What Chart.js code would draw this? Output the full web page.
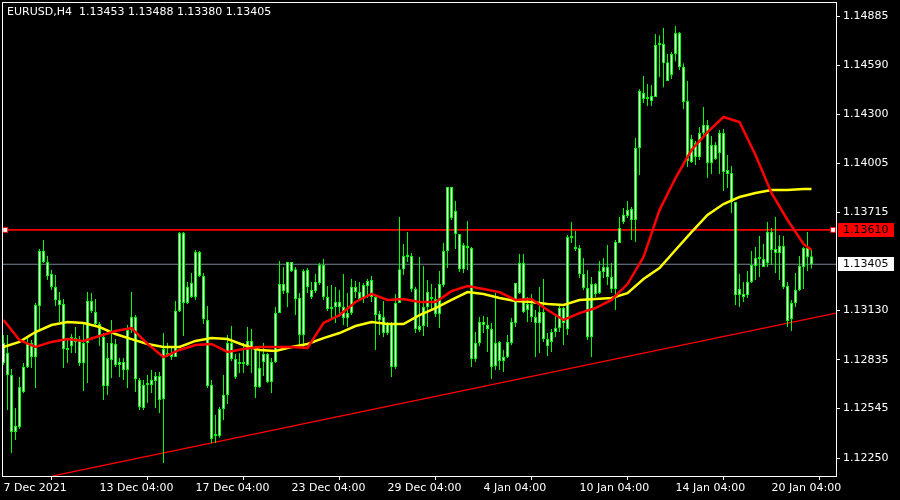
<!DOCTYPE html>
<html>
<head>
<meta charset="utf-8">
<script src="https://cdn.jsdelivr.net/npm/chart.js@4.4.0/dist/chart.umd.min.js"></script>
<style>
  html, body { margin: 0; padding: 0; background: #000; }
  #wrap { width: 900px; height: 500px; position: relative; }
</style>
</head>
<body>
<div id="wrap"><canvas id="mainChart"></canvas></div>
<script>
// EURUSD H4 - bougies
const symbol = 'EURUSD,H4';

// [open, high, low, close] par barre H4
const ohlc = [
  [1.12936,1.12983,1.12805,1.12816],[1.12876,1.12983,1.12536,1.12745],[1.12745,1.12781,1.12280,1.12405],[1.12405,1.12548,1.12358,1.12441],
  [1.12435,1.12733,1.12423,1.12673],[1.12644,1.12816,1.12638,1.12793],[1.12793,1.12965,1.12787,1.12936],[1.12936,1.12953,1.12787,1.12852],
  [1.12852,1.13174,1.12667,1.13162],[1.13156,1.13496,1.13013,1.13484],[1.13484,1.13550,1.13412,1.13418],[1.13418,1.13454,1.13311,1.13335],
  [1.13347,1.13371,1.13251,1.13269],[1.13269,1.13341,1.13156,1.13192],[1.13192,1.13239,1.13061,1.13162],[1.13168,1.13198,1.12787,1.12900],
  [1.12900,1.12965,1.12816,1.12894],[1.12918,1.12989,1.12876,1.12971],[1.12965,1.13031,1.12876,1.12942],[1.12948,1.12977,1.12799,1.12816],
  [1.12816,1.13061,1.12650,1.12936],[1.12936,1.13239,1.12697,1.13186],[1.13186,1.13233,1.13114,1.13126],[1.13120,1.13198,1.13031,1.13049],
  [1.13049,1.13061,1.12918,1.12971],[1.12971,1.12995,1.12596,1.12679],[1.12679,1.12936,1.12626,1.12846],[1.12834,1.13073,1.12727,1.12936],
  [1.12930,1.12959,1.12793,1.12805],[1.12805,1.12846,1.12733,1.12822],[1.12822,1.12846,1.12715,1.12775],[1.12775,1.13043,1.12667,1.13013],
  [1.13013,1.13239,1.12995,1.13090],[1.13090,1.13102,1.12644,1.12721],[1.12715,1.12727,1.12536,1.12554],[1.12548,1.12715,1.12536,1.12685],
  [1.12685,1.12745,1.12578,1.12697],[1.12685,1.12775,1.12638,1.12715],[1.12709,1.12763,1.12548,1.12739],[1.12739,1.12763,1.12518,1.12596],
  [1.12602,1.12995,1.12220,1.12900],[1.12876,1.12936,1.12852,1.12864],[1.12870,1.12906,1.12834,1.12852],[1.12852,1.13186,1.12852,1.13126],
  [1.13126,1.13597,1.13120,1.13591],[1.13591,1.13597,1.12977,1.13174],[1.13174,1.13299,1.13168,1.13269],[1.13293,1.13353,1.13204,1.13210],
  [1.13210,1.13490,1.13192,1.13478],[1.13478,1.13484,1.13329,1.13335],[1.13335,1.13353,1.13049,1.13079],[1.13073,1.13156,1.12667,1.12679],
  [1.12685,1.12715,1.12340,1.12364],[1.12381,1.12506,1.12340,1.12387],[1.12381,1.12554,1.12370,1.12542],[1.12542,1.12745,1.12477,1.12626],
  [1.12626,1.12983,1.12572,1.12936],[1.12936,1.13037,1.12828,1.12840],[1.12840,1.12870,1.12721,1.12733],[1.12810,1.12876,1.12757,1.12816],
  [1.12816,1.12936,1.12757,1.12810],[1.12805,1.13031,1.12799,1.12948],[1.12948,1.13019,1.12757,1.12906],[1.12906,1.12918,1.12608,1.12673],
  [1.12673,1.12894,1.12667,1.12787],[1.12822,1.12936,1.12739,1.12870],[1.12870,1.12876,1.12697,1.12703],[1.12703,1.12846,1.12638,1.12822],
  [1.12822,1.13150,1.12816,1.13114],[1.13114,1.13424,1.13114,1.13287],[1.13287,1.13388,1.13228,1.13245],[1.13233,1.13418,1.13150,1.13418],
  [1.13418,1.13418,1.13359,1.13365],[1.13376,1.13388,1.13102,1.13198],[1.13204,1.13233,1.12924,1.12983],[1.12983,1.13376,1.12912,1.13365],
  [1.13371,1.13382,1.13233,1.13269],[1.13251,1.13299,1.13198,1.13210],[1.13245,1.13347,1.13233,1.13299],[1.13293,1.13412,1.13281,1.13400],
  [1.13400,1.13436,1.13192,1.13210],[1.13210,1.13275,1.13126,1.13138],[1.13144,1.13281,1.13085,1.13138],[1.13150,1.13269,1.13055,1.13180],
  [1.13180,1.13251,1.13090,1.13150],[1.13150,1.13347,1.13043,1.13085],[1.13085,1.13233,1.13031,1.13114],[1.13114,1.13317,1.13102,1.13269],
  [1.13269,1.13305,1.13204,1.13239],[1.13239,1.13299,1.13192,1.13198],[1.13198,1.13293,1.13174,1.13281],[1.13275,1.13317,1.13204,1.13305],
  [1.13311,1.13335,1.13180,1.13210],[1.13210,1.13228,1.12894,1.13102],[1.13108,1.13126,1.12983,1.13073],[1.13090,1.13186,1.12971,1.12995],
  [1.12995,1.13061,1.12983,1.13055],[1.13049,1.13061,1.12733,1.12793],[1.12793,1.13228,1.12781,1.13174],[1.13174,1.13687,1.13174,1.13376],
  [1.13376,1.13526,1.13341,1.13454],[1.13448,1.13597,1.13418,1.13460],[1.13454,1.13472,1.13239,1.13257],[1.13257,1.13269,1.12995,1.13019],
  [1.13013,1.13448,1.13001,1.13037],[1.13037,1.13394,1.12977,1.13150],[1.13150,1.13311,1.13031,1.13239],[1.13204,1.13287,1.13132,1.13198],
  [1.13198,1.13263,1.13090,1.13108],[1.13108,1.13365,1.13025,1.13287],[1.13281,1.13532,1.13269,1.13484],[1.13484,1.13866,1.13382,1.13866],
  [1.13866,1.13866,1.13669,1.13681],[1.13722,1.13782,1.13496,1.13585],[1.13585,1.13585,1.13359,1.13376],[1.13376,1.13532,1.13353,1.13520],
  [1.13514,1.13663,1.13371,1.13502],[1.13502,1.13508,1.12793,1.12840],[1.12840,1.13001,1.12822,1.12936],[1.12936,1.13090,1.12918,1.13061],
  [1.13061,1.13096,1.12995,1.13043],[1.13043,1.13090,1.12882,1.13019],[1.13019,1.13055,1.12721,1.12793],[1.12799,1.13233,1.12775,1.12936],
  [1.12942,1.12948,1.12775,1.12828],[1.12828,1.12894,1.12763,1.12852],[1.12852,1.12983,1.12846,1.12942],[1.12936,1.13085,1.12924,1.13061],
  [1.13055,1.13293,1.13031,1.13293],[1.13233,1.13466,1.13228,1.13412],[1.13412,1.13466,1.13114,1.13120],[1.13132,1.13210,1.13061,1.13168],
  [1.13168,1.13228,1.13061,1.13090],[1.13090,1.13132,1.12852,1.13055],[1.13055,1.13269,1.12876,1.13120],[1.13120,1.13317,1.12942,1.12959],
  [1.12959,1.12995,1.12858,1.12918],[1.12942,1.13019,1.12882,1.13001],[1.13001,1.13102,1.12971,1.13025],[1.13025,1.13162,1.13001,1.13144],
  [1.13144,1.13150,1.12924,1.13055],[1.13019,1.13579,1.12983,1.13567],[1.13561,1.13657,1.13532,1.13573],[1.13508,1.13603,1.13484,1.13496],
  [1.13502,1.13520,1.13323,1.13347],[1.13347,1.13442,1.13251,1.13263],[1.13263,1.13371,1.12953,1.12971],[1.12971,1.13329,1.12852,1.13287],
  [1.13287,1.13293,1.13210,1.13228],[1.13233,1.13424,1.13228,1.13365],[1.13359,1.13442,1.13323,1.13388],[1.13388,1.13520,1.13281,1.13329],
  [1.13329,1.13412,1.13233,1.13257],[1.13257,1.13550,1.13132,1.13538],[1.13532,1.13687,1.13532,1.13621],[1.13657,1.13740,1.13645,1.13699],
  [1.13693,1.13782,1.13681,1.13728],[1.13734,1.13746,1.13550,1.13669],[1.13669,1.14157,1.13538,1.14098],[1.14098,1.14449,1.13937,1.14438],
  [1.14426,1.14527,1.14366,1.14390],[1.14390,1.14479,1.14348,1.14402],[1.14408,1.14473,1.14348,1.14378],[1.14402,1.14777,1.14402,1.14712],
  [1.14712,1.14771,1.14521,1.14718],[1.14718,1.14813,1.14461,1.14604],[1.14610,1.14658,1.14497,1.14497],[1.14533,1.14670,1.14509,1.14658],
  [1.14658,1.14825,1.14616,1.14783],[1.14783,1.14789,1.14563,1.14581],[1.14581,1.14604,1.14330,1.14372],[1.14378,1.14497,1.13985,1.14020],
  [1.14014,1.14176,1.14008,1.14152],[1.14128,1.14140,1.13997,1.14044],[1.14044,1.14223,1.14026,1.14187],[1.14187,1.14342,1.14157,1.14235],
  [1.14235,1.14265,1.13919,1.14008],[1.14008,1.14169,1.13943,1.14116],[1.14116,1.14134,1.14026,1.14032],[1.14068,1.14205,1.13943,1.14187],
  [1.14187,1.14211,1.13842,1.13955],[1.13967,1.14056,1.13860,1.13943],[1.13949,1.13991,1.13710,1.13776],[1.13776,1.13776,1.13162,1.13222],
  [1.13222,1.13347,1.13150,1.13257],[1.13228,1.13299,1.13180,1.13210],[1.13222,1.13365,1.13204,1.13299],[1.13299,1.13484,1.13293,1.13400],
  [1.13394,1.13508,1.13311,1.13442],[1.13442,1.13573,1.13329,1.13436],[1.13436,1.13526,1.13388,1.13388],[1.13412,1.13657,1.13388,1.13597],
  [1.13597,1.13621,1.13400,1.13490],[1.13496,1.13687,1.13353,1.13472],[1.13472,1.13579,1.13311,1.13514],[1.13514,1.13573,1.13257,1.13269],
  [1.13275,1.13299,1.13031,1.13067],[1.13079,1.13192,1.13007,1.13174],[1.13174,1.13353,1.13150,1.13251],[1.13251,1.13454,1.13245,1.13394],
  [1.13388,1.13508,1.13257,1.13502],[1.13502,1.13597,1.13365,1.13448],[1.13453,1.13488,1.13380,1.13405]
];

// moyennes mobiles relevées toutes les 4 barres
const maBars = [0,4,8,12,16,20,24,28,32,36,40,44,48,52,56,60,64,68,72,76,80,84,88,92,96,100,
  104,108,112,116,120,124,128,132,136,140,144,148,152,156,160,164,168,172,176,180,184,188,192,196,200,202];
const redMA = [1.13073,1.12953,1.12912,1.12942,1.12959,1.12948,1.12977,1.13007,1.13025,1.12930,
  1.12852,1.12894,1.12924,1.12930,1.12882,1.12900,1.12912,1.12912,1.12912,1.12906,
  1.13055,1.13102,1.13180,1.13228,1.13192,1.13198,1.13180,1.13180,1.13245,1.13275,
  1.13257,1.13239,1.13192,1.13198,1.13132,1.13073,1.13114,1.13144,1.13192,1.13287,
  1.13448,1.13728,1.13919,1.14086,1.14193,1.14283,1.14253,1.14056,1.13830,1.13669,
  1.13526,1.13490];
const yellowMA = [1.12912,1.12942,1.13001,1.13043,1.13061,1.13055,1.13031,1.12989,1.12959,1.12930,
  1.12912,1.12912,1.12948,1.12965,1.12959,1.12924,1.12894,1.12888,1.12912,1.12930,
  1.12965,1.12995,1.13037,1.13061,1.13049,1.13049,1.13102,1.13144,1.13192,1.13239,
  1.13228,1.13204,1.13186,1.13180,1.13168,1.13162,1.13192,1.13198,1.13204,1.13233,
  1.13317,1.13382,1.13490,1.13597,1.13699,1.13764,1.13806,1.13830,1.13848,1.13848,
  1.13854,1.13854];

// objets tracés
const trendBars = [12.375, 208.125];
const trendPrices = [1.12143, 1.13114];
const levelPrice = 1.13610;
const levelBars = [0.45, 207.4];
const bidPrice = 1.13405;

// axes
const xMin = -0.375, xMax = 208.125;
const yMin = 1.121427, yMax = 1.149685;
const xTickBars = [0, 24, 48, 72, 96, 120, 144, 168, 192];
const xTickLabels = ['7 Dec 2021', '13 Dec 04:00', '17 Dec 04:00', '23 Dec 04:00', '29 Dec 04:00',
  '4 Jan 04:00', '10 Jan 04:00', '14 Jan 04:00', '20 Jan 04:00'];
const yTicks = [1.14885, 1.14590, 1.14300, 1.14005, 1.13715, 1.13130, 1.12835, 1.12545, 1.12250];

const FONT = { family: 'DejaVu Sans', size: 11 };
const GREEN = '#00ff00';

function noPadding(s) {
    s.paddingTop = 0;
    s.paddingBottom = 0;
    s.paddingLeft = 0;
    s.paddingRight = 0;
}

const frameAndLabels = {
    id: 'frameAndLabels',
    afterDatasetsDraw(chart) {
        const { ctx, chartArea: a } = chart;
        ctx.save();
        ctx.strokeStyle = '#fff';
        ctx.lineWidth = 1;
        ctx.strokeRect(a.left + 0.5, a.top + 0.5, a.right - a.left, a.bottom - a.top);
        ctx.restore();
    },
    afterDraw(chart) {
        const { ctx, scales } = chart;
        const last = ohlc[ohlc.length - 1];
        ctx.save();
        ctx.font = '11px "DejaVu Sans"';
        ctx.textBaseline = 'middle';
        ctx.textAlign = 'left';
        ctx.fillStyle = '#fff';
        ctx.fillText(symbol + '  ' + last.map(v => v.toFixed(5)).join(' '), 7, 12);

        const yl = Math.round(scales.y.getPixelForValue(levelPrice));
        ctx.fillStyle = '#ff0000';
        ctx.fillRect(838, yl - 7, 56, 14);
        ctx.fillStyle = '#000';
        ctx.fillText(levelPrice.toFixed(5), 843, yl);

        const yb = Math.round(scales.y.getPixelForValue(bidPrice));
        ctx.fillStyle = '#fff';
        ctx.fillRect(838, yb - 7, 56, 14);
        ctx.fillStyle = '#000';
        ctx.fillText(bidPrice.toFixed(5), 843, yb);
        ctx.restore();
    }
};

function initChart() {
    const ctx = document.getElementById('mainChart').getContext('2d');

    const wicks = ohlc.map((c, i) => ({ x: i, y: [c[2], c[1]] }));
    const bodies = ohlc.map((c, i) => ({ x: i, y: [c[0], c[3]] }));

    new Chart(ctx, {
        type: 'bar',
        data: {
            datasets: [
                {
                    type: 'line', order: 10,
                    data: [{ x: xMin, y: bidPrice }, { x: xMax, y: bidPrice }],
                    borderColor: '#778899', borderWidth: 1.2, pointRadius: 0
                },
                {
                    type: 'line', order: 9,
                    data: levelBars.map(b => ({ x: b, y: levelPrice })),
                    borderColor: '#ff0000', borderWidth: 1.6,
                    pointStyle: 'rect', pointRadius: 3.5,
                    pointBackgroundColor: '#fff', pointBorderColor: '#ff0000', pointBorderWidth: 1
                },
                {
                    type: 'line', order: 8,
                    data: trendBars.map((b, i) => ({ x: b, y: trendPrices[i] })),
                    borderColor: '#ff0000', borderWidth: 1.2, pointRadius: 0
                },
                {
                    order: 5, data: wicks,
                    backgroundColor: GREEN, borderWidth: 0,
                    barThickness: 1, grouped: false, inflateAmount: 0
                },
                {
                    order: 4, data: bodies,
                    backgroundColor: '#fff', borderColor: GREEN, borderWidth: 1,
                    borderSkipped: false, barThickness: 3, grouped: false,
                    inflateAmount: 0, minBarLength: 2
                },
                {
                    type: 'line', order: 2,
                    data: maBars.map((b, i) => ({ x: b, y: yellowMA[i] })),
                    borderColor: '#ffff00', borderWidth: 2.5, pointRadius: 0, tension: 0
                },
                {
                    type: 'line', order: 1,
                    data: maBars.map((b, i) => ({ x: b, y: redMA[i] })),
                    borderColor: '#ff0000', borderWidth: 2.5, pointRadius: 0, tension: 0
                }
            ]
        },
        options: {
            responsive: true,
            maintainAspectRatio: false,
            animation: false,
            layout: { autoPadding: false, padding: { left: 2, top: 2, right: 0, bottom: 0 } },
            plugins: {
                legend: { display: false },
                tooltip: { enabled: false }
            },
            scales: {
                x: {
                    type: 'linear',
                    min: xMin,
                    max: xMax,
                    offset: false,
                    afterFit: s => { s.height = 24; noPadding(s); },
                    afterBuildTicks: s => { s.ticks = xTickBars.map(v => ({ value: v })); },
                    grid: { display: true, drawOnChartArea: false, drawTicks: true, tickLength: 4, color: '#fff' },
                    border: { display: false },
                    ticks: {
                        color: '#fff', font: FONT, align: 'start', padding: 2,
                        maxRotation: 0, autoSkip: false,
                        callback: (v, i) => xTickLabels[i]
                    }
                },
                y: {
                    position: 'right',
                    min: yMin,
                    max: yMax,
                    afterFit: s => { s.width = 64; noPadding(s); },
                    afterBuildTicks: s => { s.ticks = yTicks.map(v => ({ value: v })); },
                    grid: { display: true, drawOnChartArea: false, drawTicks: true, tickLength: 4, color: '#fff' },
                    border: { display: false },
                    ticks: {
                        color: '#fff', font: FONT, padding: 3,
                        callback: v => v.toFixed(5)
                    }
                }
            }
        },
        plugins: [frameAndLabels]
    });
}

initChart();
</script>
</body>
</html>
